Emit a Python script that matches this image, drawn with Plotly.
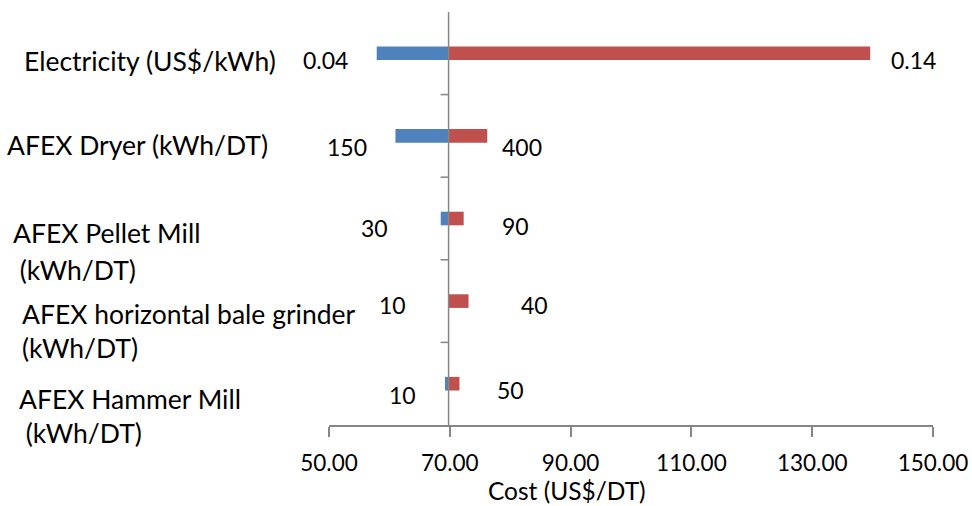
import plotly.graph_objects as go

# ---- data ----
categories = [
    ["Electricity (US$/kWh)"],
    ["AFEX Dryer (kWh/DT)"],
    ["AFEX Pellet Mill", " (kWh/DT)"],
    ["AFEX horizontal bale grinder", "(kWh/DT)"],
    ["AFEX Hammer Mill", " (kWh/DT)"],
]
base_cost = 69.8
low_cost = [57.9, 61.0, 68.5, 69.8, 69.2]
high_cost = [139.6, 76.2, 72.3, 73.1, 71.6]
low_labels = ["0.04", "150", "30", "10", "10"]
high_labels = ["0.14", "400", "90", "40", "50"]
x_ticks = [50, 70, 90, 110, 130, 150]

# ---- style / placement ----
FONT = "Lato, Carlito, Calibri, sans-serif"
FS_CAT = 26.5
FS_NUM = 23
FS_TICK = 22.5
FS_TITLE = 24.5
BLUE = "#4F81BD"
RED = "#C0504D"
GRAY = "#868686"
W, H = 972, 506
L, R, T, B = 329, 39, 12, 81
low_shift = [(-27, -7), (-26, -11), (-51, -9), (-41, -4), (-27, -11)]
high_shift = [(19, -7), (13, -11), (36, -7), (50, -4), (36, -6)]
cat_px = [  # left pixel x, center pixel y per line
    [(22, 61)],
    [(5, 145)],
    [(11, 233), (11, 270)],
    [(20, 314), (20, 348)],
    [(17, 399), (17, 433)],
]

idx = list(range(len(categories)))
fig = go.Figure()
fig.add_trace(go.Bar(
    y=idx, x=[lo - base_cost for lo in low_cost], base=base_cost,
    orientation="h", marker=dict(color=BLUE, line=dict(width=0)),
    width=0.165, showlegend=False, hoverinfo="skip"))
fig.add_trace(go.Bar(
    y=idx, x=[hi - base_cost for hi in high_cost], base=base_cost,
    orientation="h", marker=dict(color=RED, line=dict(width=0)),
    width=0.165, showlegend=False, hoverinfo="skip"))

ann = []
for i in idx:
    ann.append(dict(x=low_cost[i], y=i, xref="x", yref="y", text=low_labels[i],
                    showarrow=False, xanchor="right", yanchor="middle",
                    xshift=low_shift[i][0], yshift=low_shift[i][1],
                    font=dict(family=FONT, size=FS_NUM, color="black")))
    ann.append(dict(x=high_cost[i], y=i, xref="x", yref="y", text=high_labels[i],
                    showarrow=False, xanchor="left", yanchor="middle",
                    xshift=high_shift[i][0], yshift=high_shift[i][1],
                    font=dict(family=FONT, size=FS_NUM, color="black")))

pw = W - L - R
ph = H - T - B
for lines, pos in zip(categories, cat_px):
    for text, (px, py) in zip(lines, pos):
        ann.append(dict(x=(px - L) / pw, y=1 - (py - T) / ph, xref="paper", yref="paper",
                        text=text.replace(" ", "&nbsp;", 1) if text.startswith(" ") else text,
                        showarrow=False, xanchor="left", yanchor="middle",
                        font=dict(family=FONT, size=FS_CAT, color="black")))

ann.append(dict(x=(567 - L) / pw, y=1 - (506 - T) / ph, xref="paper", yref="paper",
                text="Cost (US$/DT)", showarrow=False, xanchor="center", yanchor="bottom",
                borderpad=0,
                font=dict(family=FONT, size=FS_TITLE, color="black")))

shapes = [dict(type="line", xref="x", yref="paper", x0=base_cost, x1=base_cost,
               y0=0, y1=1, line=dict(color=GRAY, width=1.5))]
for b in [0.5, 1.5, 2.5, 3.5]:
    shapes.append(dict(type="line", xref="x", yref="y", xsizemode="pixel",
                       xanchor=base_cost, x0=-8, x1=0, y0=b, y1=b,
                       line=dict(color=GRAY, width=1.5)))

fig.update_layout(
    width=W, height=H, margin=dict(l=L, r=R, t=T, b=B, autoexpand=False),
    paper_bgcolor="white", plot_bgcolor="white",
    barmode="overlay", annotations=ann, shapes=shapes,
    xaxis=dict(range=[50, 150], tickvals=x_ticks,
               ticktext=[f"{v:.2f}" for v in x_ticks],
               showgrid=False, zeroline=False, showline=True,
               linecolor=GRAY, linewidth=1.5, ticks="outside", ticklen=10,
               tickcolor=GRAY, tickwidth=1.5, ticklabelstandoff=7,
               tickfont=dict(family=FONT, size=FS_TICK, color="black")),
    yaxis=dict(range=[4.5, -0.5], showticklabels=False, showgrid=False,
               zeroline=False, showline=False, ticks=""),
)

fig.write_html("out.html")
